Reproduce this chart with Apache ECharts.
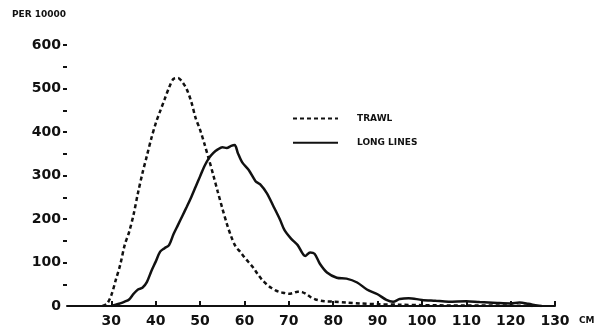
<!DOCTYPE html>
<html>
<head>
<meta charset="utf-8">
<script src="https://cdn.jsdelivr.net/npm/echarts@6/dist/echarts.min.js"></script>
<style>
    html, body { margin: 0; padding: 0; background: #fff; }
    #chart { width: 602px; height: 336px; }
</style>
</head>
<body>
<div id="chart"></div>
<script>
// length (cm) and catch per 10000
var trawlCm = [28, 29, 30, 31, 32, 33, 34, 35, 36, 37, 38, 39, 40, 41, 42, 43, 44, 45, 46, 47, 48, 49,
    50, 51, 52, 53, 54, 55, 56, 57, 58, 59, 60, 61, 62, 63, 64, 65, 66, 67, 68, 69, 70, 71, 72, 73, 74,
    75, 76, 78, 80, 83, 86, 90, 95, 100, 110, 120, 125];
var trawl = [0, 5, 25, 60, 95, 140, 170, 210, 260, 305, 345, 385, 420, 448, 475, 502, 522, 524, 515, 498, 470, 432,
    405, 372, 337, 300, 262, 225, 190, 160, 137, 125, 112, 100, 88, 73, 60, 50, 42, 36, 32, 30, 28, 30, 33, 32, 27,
    20, 15, 11, 10, 8, 6, 4, 3, 2, 1, 1, 0];

var longCm = [30, 31, 32, 33, 34, 35, 36, 37, 38, 39, 40, 41, 42, 43, 44, 45, 46, 47, 48, 49, 50, 51, 52, 53, 54,
    55, 56, 57, 57.8, 58.5, 59.5, 61, 62.5, 63.5, 65, 66.5, 68, 69, 70.5, 72, 73.7, 74.8, 75.8, 77, 78.6,
    80.8, 83, 85.4, 87.6, 90, 92, 93.5, 95, 97, 100, 103, 106, 110, 113, 117, 120, 122, 124, 126, 127];
var longLines = [0, 3, 6, 10, 15, 28, 38, 42, 55, 80, 102, 125, 133, 140, 165, 186, 207, 228, 250, 274, 298, 322, 340, 352, 360,
    365, 363, 368, 370, 352, 330, 312, 287, 280, 260, 230, 199, 175, 155, 140, 115, 123, 120, 97, 77,
    65, 63, 54, 38, 27, 14, 10, 16, 18, 14, 12, 10, 11, 9, 7, 6, 8, 5, 1, 0];

var xLabels = [30, 40, 50, 60, 70, 80, 90, 100, 110, 120, 130];
var xTicks = [30, 40, 50, 60, 70, 80, 90, 100, 110, 120, 130];
var yLabels = [0, 100, 200, 300, 400, 500, 600];
var yTicks = [50, 100, 150, 200, 250, 300, 350, 400, 450, 500, 550, 600];

function pairs(xs, ys) {
    var list = [];
    for (var i = 0; i < xs.length; i++) {
        list.push([xs[i], ys[i]]);
    }
    return list;
}

var ink = '#111';
var font = 'DejaVu Sans';

var chart = echarts.init(document.getElementById('chart'));

var option = {
    backgroundColor: '#fff',
    animation: false,
    grid: { left: 67, right: 47, top: 45, bottom: 30 },
    graphic: [
        { type: 'text', left: 12, top: 10,
          style: { text: 'PER 10000', font: 'bold 9px ' + font, fill: ink } },
        { type: 'text', left: 579, top: 316,
          style: { text: 'CM', font: 'bold 9px ' + font, fill: ink } }
    ],
    legend: {
        orient: 'vertical',
        left: 287,
        top: 108,
        itemWidth: 45,
        itemHeight: 14,
        itemGap: 13,
        itemStyle: { opacity: 0 },
        textStyle: { color: ink, fontFamily: font, fontWeight: 'bold', fontSize: 9, padding: [0, 0, 0, 14] },
        formatter: function (name) { return name.toUpperCase(); },
        data: ['Trawl', 'Long lines']
    },
    xAxis: {
        type: 'value',
        min: 20,
        max: 130,
        axisLine: { show: true, lineStyle: { color: ink, width: 2 } },
        axisTick: { show: true, inside: true, length: 5, customValues: xTicks, lineStyle: { color: ink, width: 2 } },
        axisLabel: { customValues: xLabels, color: ink, fontFamily: font, fontWeight: 'bold', fontSize: 14, margin: 8 },
        splitLine: { show: false }
    },
    yAxis: {
        type: 'value',
        min: 0,
        max: 600,
        axisLine: { show: false },
        axisTick: { show: true, length: 4, customValues: yTicks, lineStyle: { color: ink, width: 2 } },
        axisLabel: { customValues: yLabels, color: ink, fontFamily: font, fontWeight: 'bold', fontSize: 14, margin: 6 },
        splitLine: { show: false }
    },
    series: [
        {
            name: 'Trawl',
            type: 'line',
            symbol: 'none',
            smooth: 0.3,
            data: pairs(trawlCm, trawl),
            lineStyle: { color: ink, width: 2.5, type: [4, 3] },
            itemStyle: { color: ink }
        },
        {
            name: 'Long lines',
            type: 'line',
            symbol: 'none',
            smooth: 0.3,
            data: pairs(longCm, longLines),
            lineStyle: { color: ink, width: 2.5 },
            itemStyle: { color: ink }
        }
    ]
};

chart.setOption(option);
</script>
</body>
</html>
